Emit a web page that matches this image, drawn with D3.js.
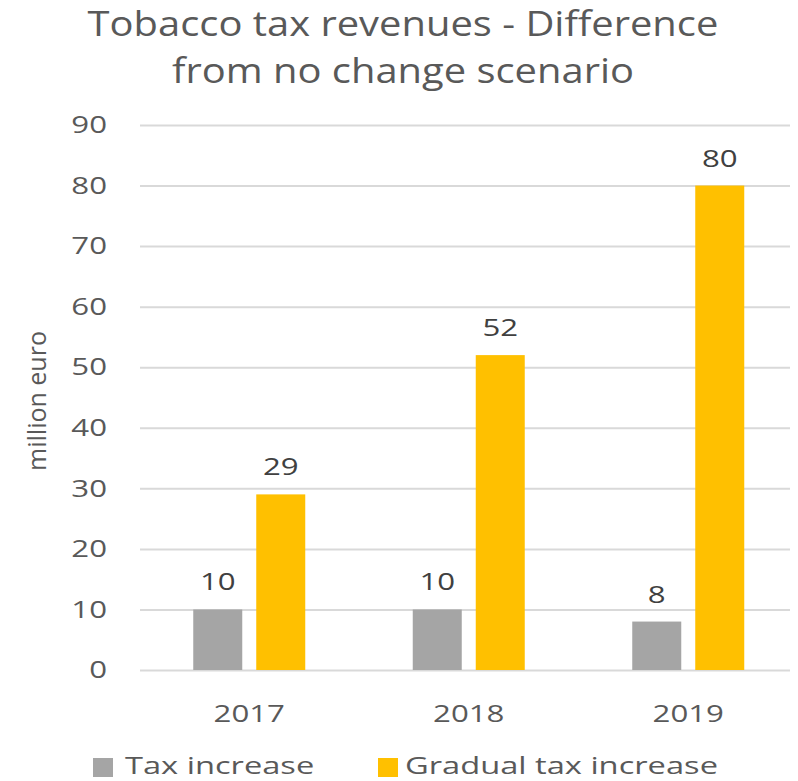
<!DOCTYPE html>
<html>
<head>
<meta charset="utf-8">
<script src="https://cdn.jsdelivr.net/npm/d3@7"></script>
<style>
  html, body { margin: 0; padding: 0; background: #fff; }
  svg { display: block; font-family: "Open Sans", "Noto Sans", sans-serif; }
</style>
</head>
<body>
<svg id="chart" width="798" height="781"></svg>
<script>
// Chart data
const titleLines = ["Tobacco tax revenues - Difference", "from no change scenario"];
const categories = ["2017", "2018", "2019"];
const seriesNames = ["Tax increase", "Gradual tax increase"];
const taxIncrease = [10, 10, 8];
const gradualTaxIncrease = [29, 52, 80];
const yTicks = [0, 10, 20, 30, 40, 50, 60, 70, 80, 90];
const yLabel = "million euro";
const seriesColors = ["#a5a5a5", "#ffc000"];

const textColor = "#595959";
const svg = d3.select("#chart");

// Widen glyphs horizontally around the text anchor
function widen(sel, k) {
  sel.each(function () {
    const w = this.getComputedTextLength();
    d3.select(this).attr("textLength", w * k).attr("lengthAdjust", "spacingAndGlyphs");
  });
}

const plot = { left: 140, right: 798, top: 125, bottom: 670 };

const y = d3.scaleLinear().domain([0, 90]).range([plot.bottom, plot.top]);
const x0 = d3.scaleBand().domain(categories).range([139.5, 798]).padding(0);
const x1 = d3.scaleBand().domain(seriesNames).range([-56, 56]).paddingInner(14 / 63).paddingOuter(0);

// Title
svg.append("g").selectAll("text").data(titleLines).join("text")
  .attr("x", 403)
  .attr("y", (d, i) => 36 + i * 47)
  .attr("text-anchor", "middle")
  .attr("fill", textColor)
  .attr("font-size", 35)
  .text(d => d)
  .call(widen, 1.14);

// Y axis with gridlines
const yAxis = svg.append("g")
  .attr("transform", `translate(${plot.left},0)`)
  .call(d3.axisLeft(y).tickValues(yTicks).tickSize(-(790 - plot.left)).tickPadding(33));
yAxis.select(".domain").remove();
yAxis.selectAll(".tick line").attr("stroke", "#d9d9d9").attr("stroke-width", 2);
yAxis.selectAll(".tick text")
  .attr("fill", textColor)
  .attr("font-size", 24)
  .attr("font-family", "'Open Sans', sans-serif")
  .call(widen, 1.3);

// Y axis title
svg.append("text")
  .attr("transform", "translate(46,401) rotate(-90)")
  .attr("text-anchor", "middle")
  .attr("fill", textColor)
  .attr("font-size", 25)
  .text(yLabel);

// Bars
const rows = categories.map((c, i) => ({
  category: c,
  values: [
    { series: seriesNames[0], value: taxIncrease[i], color: seriesColors[0] },
    { series: seriesNames[1], value: gradualTaxIncrease[i], color: seriesColors[1] }
  ]
}));

const groups = svg.append("g").selectAll("g").data(rows).join("g")
  .attr("transform", d => `translate(${x0(d.category) + x0.bandwidth() / 2},0)`);

groups.selectAll("rect").data(d => d.values).join("rect")
  .attr("x", d => x1(d.series))
  .attr("width", x1.bandwidth())
  .attr("y", d => y(d.value))
  .attr("height", d => y(0) - y(d.value))
  .attr("fill", d => d.color);

groups.selectAll("text.value").data(d => d.values).join("text")
  .attr("class", "value")
  .attr("x", d => x1(d.series) + x1.bandwidth() / 2)
  .attr("y", d => y(d.value) - 19)
  .attr("text-anchor", "middle")
  .attr("fill", "#404040")
  .attr("font-size", 24)
  .text(d => d.value)
  .call(widen, 1.3);

// X axis labels
svg.append("g").selectAll("text").data(categories).join("text")
  .attr("x", d => x0(d) + x0.bandwidth() / 2)
  .attr("y", 722)
  .attr("text-anchor", "middle")
  .attr("fill", textColor)
  .attr("font-size", 24)
  .text(d => d)
  .call(widen, 1.3);

// Legend
const legendX = [93, 378];
const legend = svg.append("g").selectAll("g").data(seriesNames).join("g")
  .attr("transform", (d, i) => `translate(${legendX[i]},758)`);
legend.append("rect")
  .attr("width", 20).attr("height", 19)
  .attr("fill", (d, i) => seriesColors[i]);
legend.append("text")
  .attr("x", (d, i) => i === 0 ? 32 : 27)
  .attr("y", 16)
  .attr("fill", textColor)
  .attr("font-size", 24)
  .text(d => d)
  .call(widen, 1.36);
</script>
</body>
</html>
